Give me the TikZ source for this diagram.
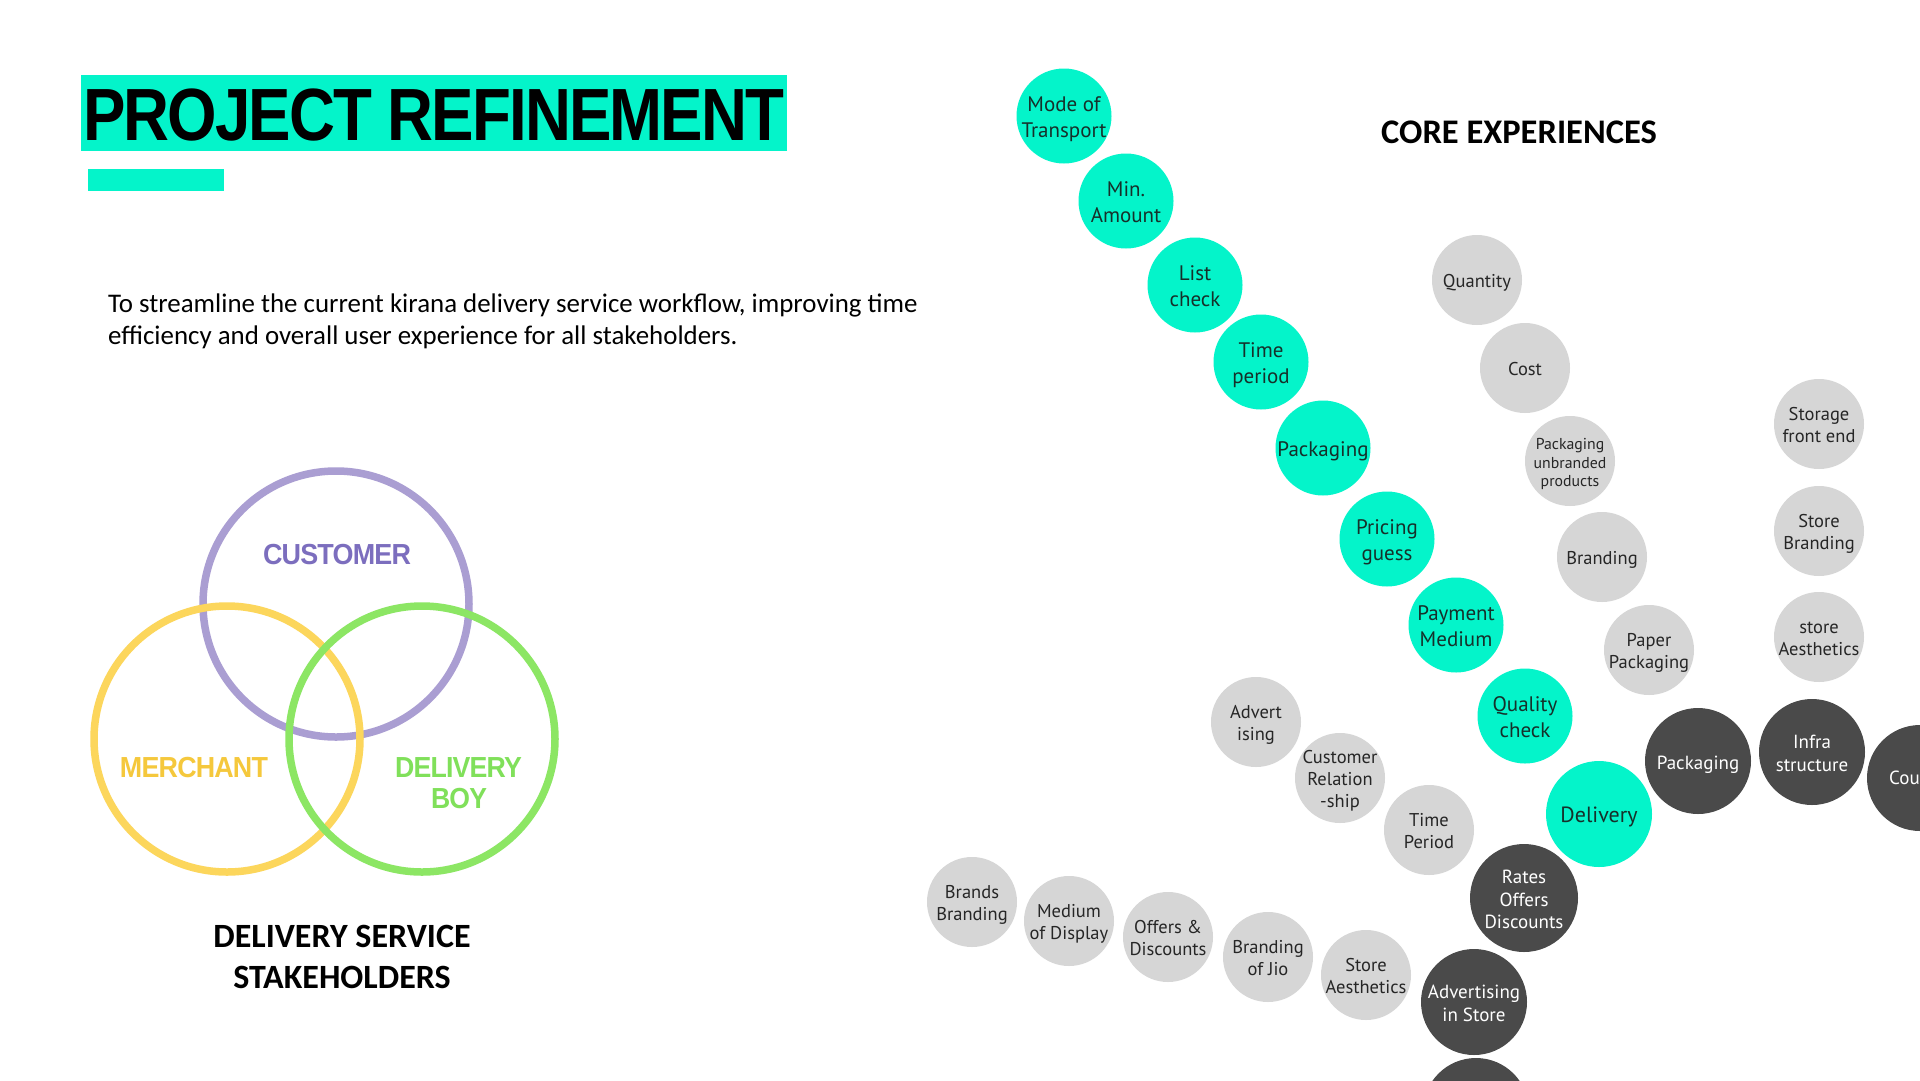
\documentclass[tikz,border=0pt]{standalone}
\usepackage{fontspec}
\usepackage{graphicx}
\setmainfont{Carlito}
\newfontfamily\titlefont[LetterSpace=-3]{Liberation Sans}
\newfontfamily\vennfont[LetterSpace=-3]{Liberation Sans}
\newfontfamily\bubfont{PT Sans}
\newfontfamily\calfont{Carlito}
\definecolor{tealc}{RGB}{4,244,202}
\definecolor{tealtext}{RGB}{22,48,42}
\definecolor{grayc}{RGB}{214,214,214}
\definecolor{graytext}{RGB}{38,38,38}
\definecolor{darkc}{RGB}{74,74,74}
\definecolor{purplec}{RGB}{170,158,210}
\definecolor{purplet}{RGB}{124,110,190}
\definecolor{yellowc}{RGB}{252,214,92}
\definecolor{yellowt}{RGB}{245,200,60}
\definecolor{greenc}{RGB}{140,230,100}
\definecolor{greent}{RGB}{128,224,90}
\newcommand{\bl}[1]{\makebox[0pt][c]{\raisebox{-3.5pt}[\height][\depth]{\begin{tabular}{@{}c@{}}#1\end{tabular}}}}
\begin{document}
\begin{tikzpicture}[x=1pt,y=-1pt,
  bub/.style={circle, inner sep=0pt, outer sep=0pt},
  tealbub/.style={bub, fill=tealc, minimum size=95pt, text=tealtext, font=\bubfont\fontsize{21}{26}\selectfont},
  graybub/.style={bub, fill=grayc, minimum size=90pt, text=graytext, font=\bubfont\fontsize{18.5}{22}\selectfont},
  darkbub/.style={bub, fill=darkc, minimum size=106pt, text=white, font=\bubfont\fontsize{19}{22.5}\selectfont},
  ring/.style={circle, inner sep=0pt, minimum size=266pt, line width=7.5pt},
  vlabel/.style={anchor=base, inner sep=0pt, font=\vennfont\bfseries\fontsize{29}{32}\selectfont},
  txt/.style={inner sep=0pt},
]
\useasboundingbox (0,0) rectangle (1920,1080);
\fill[white] (0,0) rectangle (1920,1080);

% title
\node[fill=tealc, minimum width=706pt, minimum height=76pt, inner sep=0pt, anchor=north west] (titlebox) at (81,75) {};
\node[txt, anchor=base west, font=\titlefont\bfseries\fontsize{74}{80}\selectfont] (title) at (83,140) {\resizebox{701pt}{\height}{PROJECT REFINEMENT}};
\node[fill=tealc, minimum width=136pt, minimum height=22pt, inner sep=0pt, anchor=north west] (bar) at (88,169) {};

% paragraph
\node[txt, anchor=base west, font=\calfont\fontsize{26.9}{32}\selectfont] (para1) at (108,312.5) {To streamline the current kirana delivery service workflow, improving time};
\node[txt, anchor=base west, font=\calfont\fontsize{26.9}{32}\selectfont] (para2) at (108,344.5) {efficiency and overall user experience for all stakeholders.};

% venn
\node[ring, draw=purplec] (cust) at (336,604) {};
\node[ring, draw=yellowc] (merch) at (227,739) {};
\node[ring, draw=greenc] (dboy) at (422,739) {};
\node[vlabel, text=purplet] (custl) at (337,564) {\resizebox{148pt}{\height}{CUSTOMER}};
\node[vlabel, text=yellowt] (merchl) at (194,777) {\resizebox{148pt}{\height}{MERCHANT}};
\node[vlabel, text=greent] (dboyl1) at (458.5,777) {\resizebox{127pt}{\height}{DELIVERY}};
\node[vlabel, text=greent] (dboyl2) at (459,808) {\resizebox{56pt}{\height}{BOY}};

\node[txt, anchor=base, font=\calfont\bfseries\fontsize{34}{41.5}\selectfont] (stake1) at (342,947) {DELIVERY SERVICE};
\node[txt, anchor=base, font=\calfont\bfseries\fontsize{34}{41.5}\selectfont] (stake2) at (342,988) {STAKEHOLDERS};

% core experiences
\node[txt, anchor=base, font=\calfont\bfseries\fontsize{34.5}{41}\selectfont] (core) at (1519,143) {CORE EXPERIENCES};

\begin{scope}
\clip (0,0) rectangle (1920,1080);
% gray right
\node[graybub] (qty) at (1477,280) {\bl{Quantity}};
\node[graybub] (cost) at (1525,368) {\bl{Cost}};
\node[graybub, font=\bubfont\fontsize{15.8}{18.5}\selectfont] (pkun) at (1570,461) {\bl{Packaging\\unbranded\\products}};
\node[graybub] (brand) at (1602,557) {\bl{Branding}};
\node[graybub] (paper) at (1649,650) {\bl{Paper\\Packaging}};
\node[graybub] (storage) at (1819,424) {\bl{Storage\\front end}};
\node[graybub] (sbrand) at (1819,531) {\bl{Store\\Branding}};
\node[graybub] (saes) at (1819,637) {\bl{store\\Aesthetics}};
% gray lower
\node[graybub] (advert) at (1256,722) {\bl{Advert\\ising}};
\node[graybub] (crel) at (1340,778) {\bl{Customer\\Relation\\-ship}};
\node[graybub] (tper) at (1429,830) {\bl{Time\\Period}};
\node[graybub] (bbrand) at (972,902) {\bl{Brands\\Branding}};
\node[graybub] (medium) at (1069,921) {\bl{Medium\\of Display}};
\node[graybub] (offers) at (1168,937) {\bl{Offers \&\\Discounts}};
\node[graybub] (jio) at (1268,957) {\bl{Branding\\of Jio}};
\node[graybub] (saes2) at (1366,975) {\bl{Store\\Aesthetics}};
% dark
\node[darkbub] (dpack) at (1698,761) {\bl{Packaging}};
\node[darkbub] (infra) at (1812,752) {\bl{Infra\\structure}};
\node[darkbub] (cou) at (1920,778) {};
\node[txt, anchor=west, text=white, font=\bubfont\fontsize{19}{22.5}\selectfont] (coutxt) at (1889,778) {Cou};
\node[darkbub, minimum size=108pt] (rates) at (1524,898) {\bl{Rates\\Offers\\Discounts}};
\node[darkbub] (advs) at (1474,1002) {\bl{Advertising\\in Store}};
\node[darkbub] (dbot) at (1476,1111) {};
% teal chain
\node[tealbub] (mode) at (1064,116) {\bl{Mode of\\Transport}};
\node[tealbub] (minamt) at (1126,201) {\bl{Min.\\Amount}};
\node[tealbub] (list) at (1195,285) {\bl{List\\check}};
\node[tealbub] (timep) at (1261,362) {\bl{Time\\period}};
\node[tealbub] (pack) at (1323,448) {\bl{Packaging}};
\node[tealbub] (price) at (1387,539) {\bl{Pricing\\guess}};
\node[tealbub] (pay) at (1456,625) {\bl{Payment\\Medium}};
\node[tealbub] (qual) at (1525,716) {\bl{Quality\\check}};
\node[tealbub, minimum size=106pt, font=\bubfont\fontsize{22}{26}\selectfont] (deliv) at (1599,814) {\bl{Delivery}};
\end{scope}
\end{tikzpicture}
\end{document}
